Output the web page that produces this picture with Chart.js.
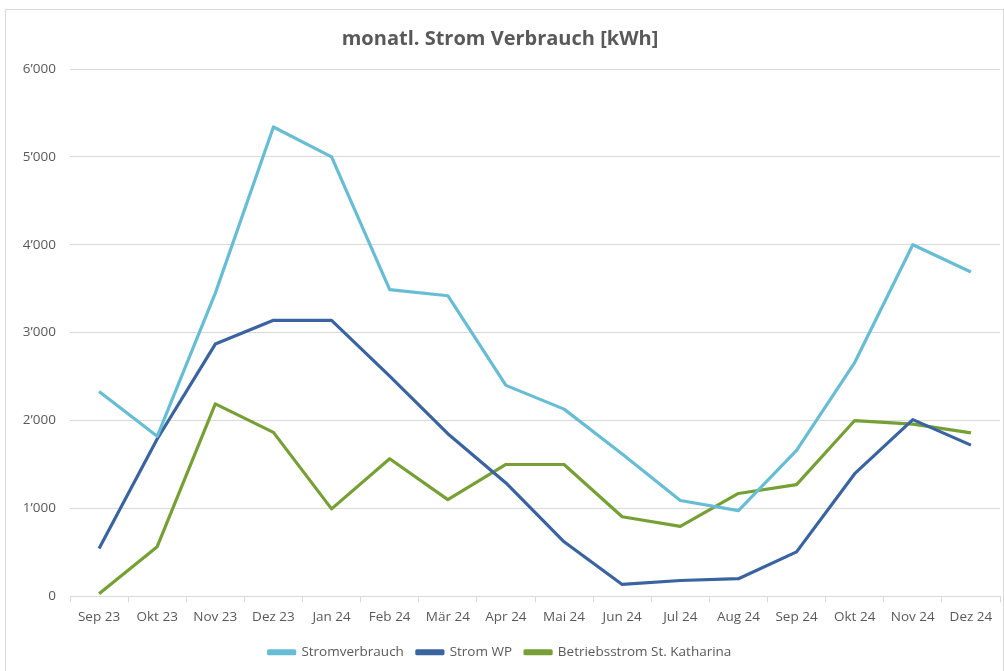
<!DOCTYPE html>
<html>
<head>
<meta charset="utf-8">
<script src="https://cdn.jsdelivr.net/npm/chart.js@4"></script>
<style>
  html, body { margin: 0; padding: 0; background: #fff; }
  #wrap { width: 1004px; height: 671px; position: relative; }
</style>
</head>
<body>
<div id="wrap"><canvas id="chart"></canvas></div>
<script>
// Monate (Kategorien)
const months = ['Sep 23', 'Okt 23', 'Nov 23', 'Dez 23', 'Jan 24', 'Feb 24', 'Mär 24', 'Apr 24',
                'Mai 24', 'Jun 24', 'Jul 24', 'Aug 24', 'Sep 24', 'Okt 24', 'Nov 24', 'Dez 24'];

// Werte in kWh
const stromverbrauch = [2330, 1820, 3450, 5340, 5000, 3490, 3420, 2400, 2130, 1620, 1090, 975, 1660, 2660, 4000, 3690];
const stromWP        = [545, 1790, 2870, 3140, 3140, 2505, 1850, 1290, 620, 135, 180, 200, 505, 1395, 2010, 1720];
const betriebsstrom  = [30, 565, 2190, 1865, 995, 1565, 1100, 1500, 1500, 905, 795, 1170, 1270, 2000, 1960, 1860];

const yTicks = [0, 1000, 2000, 3000, 4000, 5000, 6000];

const fontFamily = '"Open Sans", "Noto Sans", sans-serif';
const grey = '#595959';

// Tausender mit Apostroph (z.B. 6’000)
function fmt(v) {
    return String(v).replace(/\B(?=(\d{3})+(?!\d))/g, '\u2019');
}

// weisser Hintergrund + Rahmen wie im Excel-Diagramm
const frame = {
    id: 'frame',
    beforeDraw(chart) {
        const c = chart.ctx;
        c.save();
        c.fillStyle = '#fff';
        c.fillRect(0, 0, chart.width, chart.height);
        c.strokeStyle = '#d9d9d9';
        c.lineWidth = 1;
        c.strokeRect(5.5, 9.5, chart.width - 6, chart.height - 6);
        c.restore();
    }
};

const line = (label, data, color) => ({
    label, data,
    borderColor: color,
    backgroundColor: color,
    borderWidth: 3.2,
    pointRadius: 0,
    tension: 0,
    borderJoinStyle: 'round'
});

new Chart(document.getElementById('chart'), {
    type: 'line',
    data: {
        labels: months,
        datasets: [
            line('Stromverbrauch', stromverbrauch, '#67bdd4'),
            line('Strom WP', stromWP, '#3a64a0'),
            line('Betriebsstrom St. Katharina', betriebsstrom, '#76a035')
        ]
    },
    options: {
        responsive: true, maintainAspectRatio: false,
        animation: false,
        layout: { padding: { left: 0, right: 4, top: 17, bottom: 2 } },
        scales: {
            x: {
                offset: true,
                grid: { offset: true, drawOnChartArea: false, drawTicks: true, tickLength: 6, color: '#d9d9d9' },
                border: { color: '#d9d9d9' },
                ticks: { color: grey, font: { family: fontFamily, size: 13.5 }, maxRotation: 0, autoSkip: false, padding: 7 }
            },
            y: {
                min: 0, max: 6000,
                afterBuildTicks: (s) => { s.ticks = yTicks.map(v => ({ value: v })); },
                afterFit: (s) => { s.width = 70; },
                grid: { color: '#d9d9d9', drawTicks: false },
                border: { display: false },
                ticks: { color: grey, font: { family: fontFamily, size: 13.5 }, padding: 14, callback: (v) => fmt(v) }
            }
        },
        plugins: {
            title: {
                display: true,
                text: 'monatl. Strom Verbrauch [kWh]',
                color: grey,
                font: { family: fontFamily, size: 20, weight: 'bold' },
                padding: { top: 10, bottom: 18 }
            },
            legend: {
                position: 'bottom',
                labels: { color: grey, font: { family: fontFamily, size: 13.5 }, boxWidth: 26, boxHeight: 3, padding: 13 }
            },
            tooltip: { enabled: false }
        }
    },
    plugins: [frame]
});
</script>
</body>
</html>
